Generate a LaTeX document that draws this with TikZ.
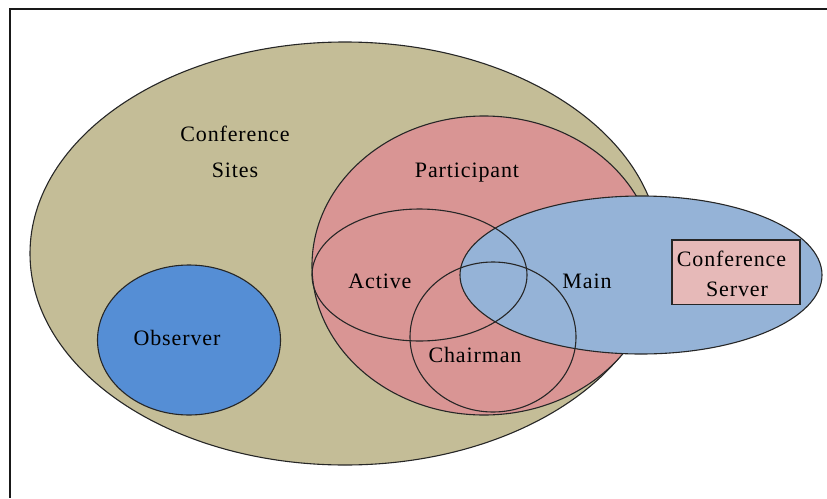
\documentclass[tikz,border=0pt]{standalone}
\usepackage{fontspec}
\setmainfont{Liberation Serif}[LetterSpace=4]
\begin{document}
\begin{tikzpicture}[x=1pt,y=-1pt,
  setline/.style={draw=black!85,line width=1.1pt},
  lbl/.style={anchor=base,inner sep=0pt,font=\fontsize{22}{26}\selectfont}]
\path[use as bounding box] (0,0) rectangle (827,498);
% frame
\coordinate (ftop) at (827,9);
\coordinate (fcorner) at (10,9);
\coordinate (fbot) at (10,498);
\draw[line width=1.6pt,black!90] (ftop) -- (fcorner) -- (fbot);
% sets
\path[setline,fill={rgb,255:red,196;green,189;blue,151}] (345,253.5) ellipse [x radius=315pt, y radius=211.5pt];
\path[setline,fill={rgb,255:red,85;green,142;blue,213}] (189,340) ellipse [x radius=91.5pt, y radius=75pt];
\path[setline,fill={rgb,255:red,217;green,149;blue,148}] (484,265.5) ellipse [x radius=172pt, y radius=149.5pt];
\path[setline,fill={rgb,255:red,149;green,179;blue,215}] (641,275) ellipse [x radius=181pt, y radius=79pt];
\path[setline] (419.5,275) ellipse [x radius=107.5pt, y radius=66pt];
\path[setline] (493,337) ellipse [x radius=83pt, y radius=75pt];
\path[setline,fill={rgb,255:red,230;green,185;blue,184}] (672,240) rectangle (800,304.5);
% labels
\node[lbl] (cs1) at (235,141) {Conference};
\node[lbl] (cs2) at (235,177) {Sites};
\node[lbl] (part) at (467,177) {Participant};
\node[lbl] (act) at (380,288) {Active};
\node[lbl] (main) at (587,288) {Main};
\node[lbl] (chair) at (475,362) {Chairman};
\node[lbl] (obs) at (177,345) {Observer};
\node[lbl] (srv1) at (731.5,266) {Conference};
\node[lbl] (srv2) at (737,296) {Server};
\end{tikzpicture}
\end{document}
